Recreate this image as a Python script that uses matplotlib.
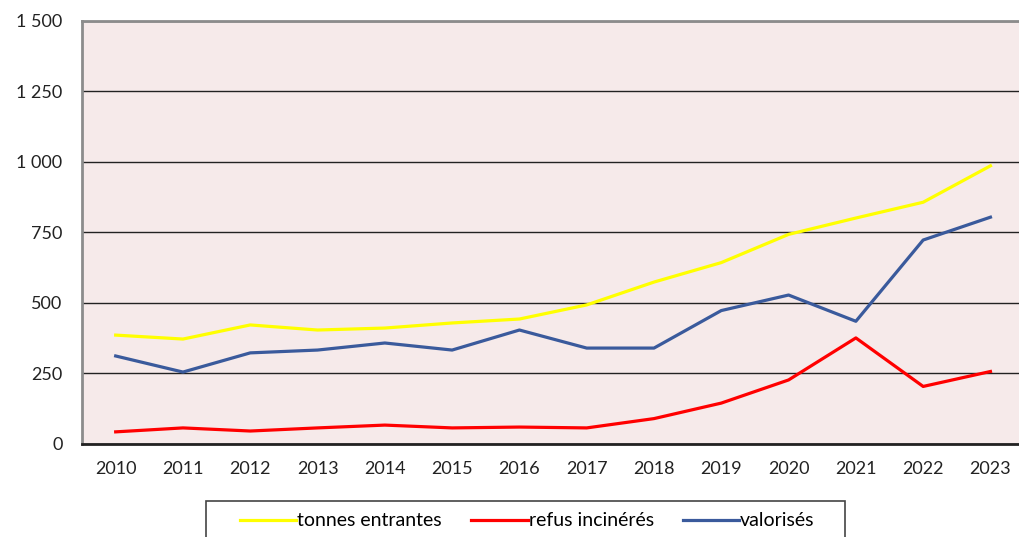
import numpy as np
import matplotlib.pyplot as plt
from matplotlib.ticker import FuncFormatter
from matplotlib.patches import Rectangle

plt.rcParams['font.family'] = ['Lato', 'DejaVu Sans']

years = [2010, 2011, 2012, 2013, 2014, 2015, 2016, 2017, 2018, 2019, 2020, 2021, 2022, 2023]
tonnes_entrantes = [386, 372, 422, 404, 411, 429, 443, 493, 574, 643, 743, 801, 857, 986]
refus_incineres = [43, 57, 46, 57, 67, 57, 60, 57, 90, 145, 227, 376, 204, 257]
valorises = [312, 255, 323, 333, 358, 333, 404, 340, 340, 473, 528, 435, 723, 804]

fig = plt.figure(figsize=(10.19, 5.37), dpi=100)
ax = fig.add_axes([0.0805, 0.1732, 0.9245, 0.788])
ax.set_facecolor('#f6eaea')

x = np.arange(len(years))
ax.plot(x, tonnes_entrantes, color='#ffff00', lw=2.3, label='tonnes entrantes')
ax.plot(x, refus_incineres, color='#ff0000', lw=2.3, label='refus incinérés')
ax.plot(x, valorises, color='#3a5a9c', lw=2.3, label='valorisés')

ax.set_xlim(-0.5, len(years) - 0.5)
ax.set_ylim(0, 1500)
ax.set_yticks([0, 250, 500, 750, 1000, 1250, 1500])
ax.yaxis.set_major_formatter(FuncFormatter(lambda v, p: f'{int(v):,}'.replace(',', ' ')))
ax.set_xticks(x)
ax.set_xticklabels([str(y) for y in years])
ax.tick_params(length=0, labelsize=13, colors='#222222', pad=12)
ax.tick_params(axis='y', pad=14)
ax.grid(axis='y', color='#222222', lw=1.0)
ax.set_axisbelow(True)

for s in ['left', 'top', 'right']:
    ax.spines[s].set_color('#8c8c8c')
    ax.spines[s].set_linewidth(2)
ax.spines['bottom'].set_color('#222222')
ax.spines['bottom'].set_linewidth(2)

# legend (cut by the bottom edge, as in the original)
fig.legend(loc='center left', bbox_to_anchor=(240 / 1019, 1 - 521 / 537), ncol=3,
           frameon=False, fontsize=14, handlelength=2.9, handletextpad=0.05,
           columnspacing=1.5, borderpad=0, borderaxespad=0)
fig.patches.append(Rectangle((206 / 1019, -0.05), (845 - 206) / 1019, 1 - 501 / 537 + 0.05,
                             transform=fig.transFigure, fill=False,
                             edgecolor='#444444', lw=1.2))

plt.savefig('out.png', dpi=100)
